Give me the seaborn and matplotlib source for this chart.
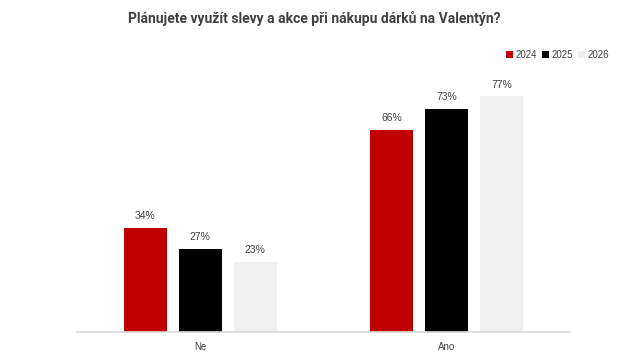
import matplotlib
matplotlib.use("Agg")
import matplotlib.pyplot as plt
import seaborn as sns
import pandas as pd
from matplotlib.patches import Patch

categories = ["Ne", "Ano"]
years = ["2024", "2025", "2026"]
values_2024 = [34, 66]
values_2025 = [27, 73]
values_2026 = [23, 77]
colors = ["#C00000", "#000000", "#F0F0F0"]

rows = []
for y, vals in zip(years, [values_2024, values_2025, values_2026]):
    for c, v in zip(categories, vals):
        rows.append({"cat": c, "year": y, "val": v})
df = pd.DataFrame(rows)

sns.set_theme(style="white")
plt.rcParams["font.family"] = ["Liberation Sans", "DejaVu Sans"]

fig = plt.figure(figsize=(6.29, 3.54), dpi=100)
ax = fig.add_axes([0.1224, 0.0621, 0.7838, 0.7345])

sns.barplot(data=df, x="cat", y="val", hue="year", order=categories,
            hue_order=years, palette=colors, width=0.67, gap=0.22,
            ax=ax, legend=False, saturation=1, linewidth=0)

for cont in ax.containers:
    ax.bar_label(cont, labels=[f"{int(v)}%" for v in cont.datavalues],
                 padding=5, fontsize=7.5, color="#404040")

ax.set_xlim(-0.5, 1.5)
ax.set_ylim(0, 85)
ax.set_yticks([])
ax.set_xlabel("")
ax.set_ylabel("")
for s in ["top", "right", "left"]:
    ax.spines[s].set_visible(False)
ax.spines["bottom"].set_color("#D9D9D9")
ax.spines["bottom"].set_linewidth(1.2)
ax.tick_params(axis="x", length=0, labelsize=7, labelcolor="#404040", pad=7)

handles = [Patch(facecolor=c, edgecolor="none") for c in colors]
fig.legend(handles, years, loc="center", bbox_to_anchor=(0.887, 0.845),
           ncol=3, frameon=False, fontsize=7, handlelength=0.7, handleheight=0.7,
           handletextpad=0.3, columnspacing=0.5, labelcolor="#404040")

fig.text(0.5, 0.949, "Plánujete využít slevy a akce při nákupu dárků na Valentýn?",
         ha="center", va="center", fontsize=10, fontweight="bold",
         color="#404040", family=["Roboto", "DejaVu Sans"])

fig.savefig("out.png", dpi=100, facecolor="white")
